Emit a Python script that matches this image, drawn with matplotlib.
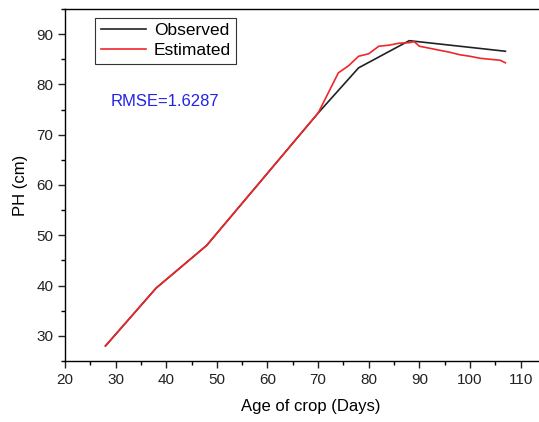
import numpy as np
import matplotlib.pyplot as plt
from matplotlib.ticker import MultipleLocator

plt.rcParams['font.family'] = ['Liberation Sans', 'DejaVu Sans']

# observed plant height
obs_days = [28, 38, 48, 70, 78, 88, 107]
obs_ph = [28, 39.5, 48, 74.3, 83.3, 88.7, 86.6]

# model estimate
est_days = [28, 38, 48, 70, 72, 74, 76, 78, 80, 82, 84, 86, 88, 89,
            90, 92, 94, 96, 98, 100, 102, 104, 106, 107]
est_ph = [28, 39.5, 48, 74.3, 78.3, 82.3, 83.7, 85.6, 86.1, 87.6, 87.8, 88.2, 88.3, 88.5,
          87.6, 87.2, 86.8, 86.4, 85.9, 85.6, 85.2, 85.0, 84.8, 84.3]

rmse_text = "RMSE=1.6287"

fig = plt.figure(figsize=(5.39, 4.22), dpi=100)
# right spine falls outside the picture, as in the original crop
ax = fig.add_axes([65/539, 61/422, 491/539, 352/422])

ax.plot(obs_days, obs_ph, color='#222222', lw=1.2, label='Observed')
ax.plot(est_days, est_ph, color='#f0262b', lw=1.2, label='Estimated')

ax.set_xlim(20, 117)
ax.set_ylim(25, 95)
ax.xaxis.set_major_locator(MultipleLocator(10))
ax.xaxis.set_minor_locator(MultipleLocator(5))
ax.yaxis.set_major_locator(MultipleLocator(10))
ax.yaxis.set_minor_locator(MultipleLocator(5))
ax.set_xticks(np.arange(20, 111, 10))
ax.set_yticks(np.arange(30, 91, 10))
ax.tick_params(which='major', direction='out', length=5, width=1, labelsize=11, colors='#222222')
ax.tick_params(which='minor', direction='out', length=3, width=1)
for s in ax.spines.values():
    s.set_linewidth(1)

ax.set_xlabel('Age of crop (Days)', fontsize=12, labelpad=9)
ax.set_ylabel('PH (cm)', fontsize=12, labelpad=6)

leg = ax.legend(loc='upper left', bbox_to_anchor=(0.055, 0.985), fontsize=12.5,
                fancybox=False, edgecolor='#333333', framealpha=1,
                handlelength=2.6, borderpad=0.3, labelspacing=0.3, handletextpad=0.45,
                borderaxespad=0.2)
leg.get_frame().set_linewidth(0.8)

ax.text(0.092, 0.725, rmse_text, transform=ax.transAxes, color='#2323e6', fontsize=12)

fig.savefig('out.png', dpi=100)
